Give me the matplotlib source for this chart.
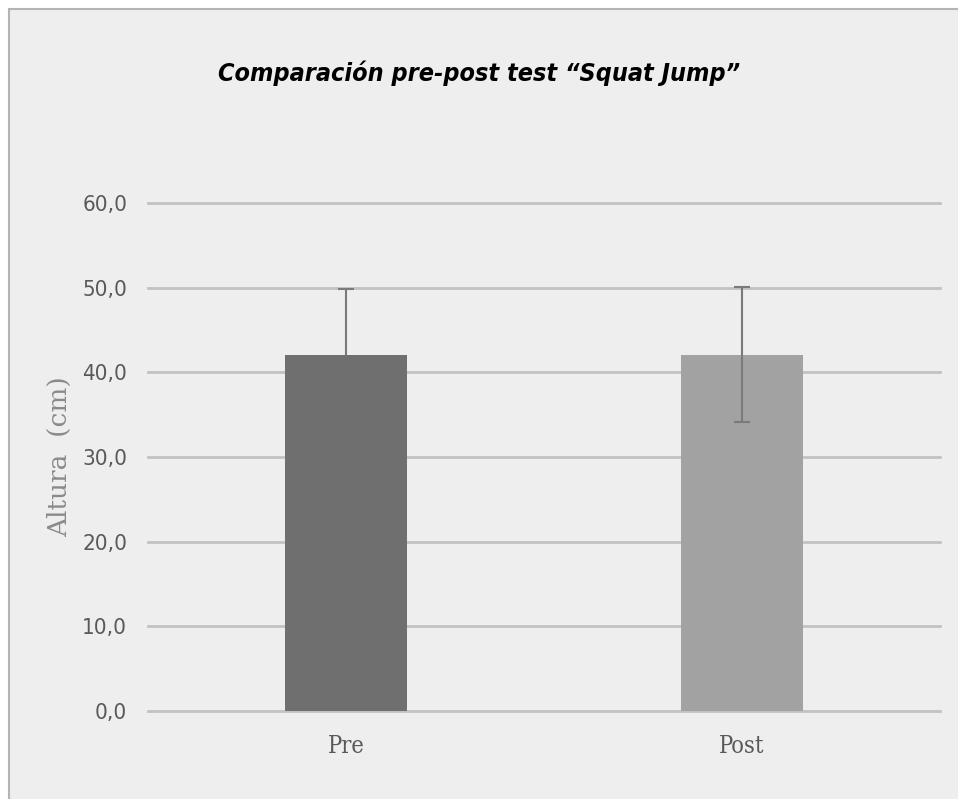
import matplotlib as mpl
mpl.use('Agg')
import matplotlib.pyplot as plt
from matplotlib.patches import Rectangle

# data
groups = ["Pre", "Post"]
heights = [42.1, 42.1]
err_low = [0.0, 8.0]
err_high = [7.8, 8.0]
bar_colors = ["#6f6f6f", "#a2a2a2"]
yticks = [0, 10, 20, 30, 40, 50, 60]
ytick_labels = ["0,0", "10,0", "20,0", "30,0", "40,0", "50,0", "60,0"]

fig = plt.figure(figsize=(9.58, 7.99), dpi=100, facecolor="white")
# chart area frame (cut off on the right and bottom like the screenshot)
fig.patches.append(Rectangle((9 / 958, -0.05), 1.1, 1 - 9 / 799 + 0.05,
                             transform=fig.transFigure, facecolor="#eeeeee",
                             edgecolor="#b4b4b4", linewidth=1.5, zorder=-1))

ax = fig.add_axes([148 / 958, 1 - 711 / 799, 792 / 958, 508 / 799])
ax.set_facecolor("none")

x = list(range(len(groups)))
ax.bar(x, heights, width=0.31, color=bar_colors, zorder=2)
for i in x:
    _, caps, _ = ax.errorbar(x[i], heights[i], yerr=[[err_low[i]], [err_high[i]]],
                             fmt="none", ecolor="#7a7a7a", elinewidth=1.5,
                             capsize=6, capthick=1.5, zorder=3)
    if err_low[i] == 0:
        caps[0].set_visible(False)

ax.set_xlim(-0.5, 1.5)
ax.set_ylim(0, 60)
ax.set_yticks(yticks)
ax.set_yticklabels(ytick_labels, family="DejaVu Sans", fontstretch="condensed",
                   fontsize=16, color="#595959")
ax.set_xticks(x)
ax.set_xticklabels(groups, family="DejaVu Serif", fontstretch="condensed",
                   fontsize=17, color="#595959")
ax.tick_params(length=0, pad=15)
ax.tick_params(axis="x", pad=17)
ax.grid(axis="y", color="#c2c2c2", linewidth=2, zorder=1)
for gl in ax.get_ygridlines():
    gl.set_clip_on(False)
for s in ax.spines.values():
    s.set_visible(False)

ax.set_ylabel("Altura  (cm)", family="DejaVu Serif", fontsize=19,
              color="#8a8a8a")
ax.yaxis.set_label_coords(-0.096, 0.5)

fig.text(0.5, 1 - 73 / 799, "Comparación pre-post test \u201cSquat Jump\u201d",
         ha="center", va="center", family="DejaVu Sans", fontstretch="condensed",
         style="italic", weight="bold", fontsize=18, color="black")

fig.savefig("out.png", dpi=100)
